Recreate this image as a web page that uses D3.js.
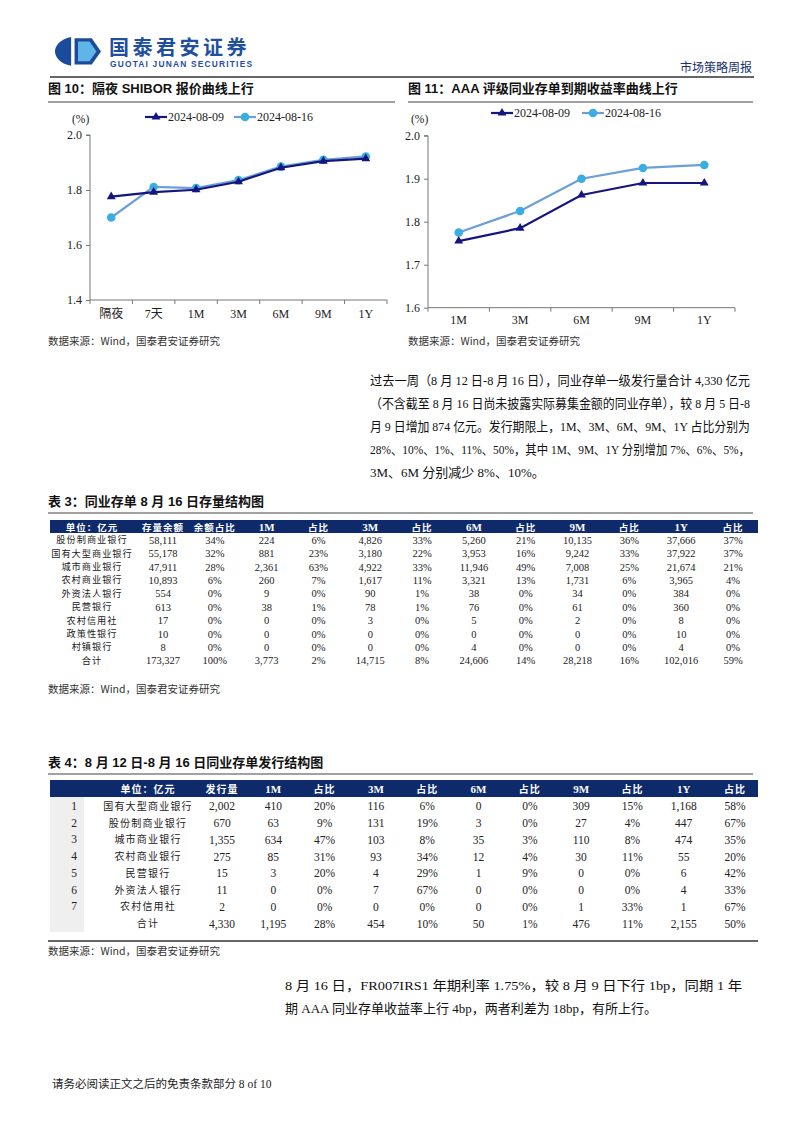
<!DOCTYPE html>
<html><head><meta charset="utf-8">
<script src="https://cdn.jsdelivr.net/npm/d3@7"></script>
<style>body{margin:0;background:#fff} svg{display:block}</style>
</head><body><svg id="c" width="802" height="1133"></svg>
<script>
// ---------- DATA ----------
const shiborCats = ["隔夜","7天","1M","3M","6M","9M","1Y"];
const shibor0809 = [1.776,1.792,1.801,1.830,1.881,1.905,1.914];
const shibor0816 = [1.700,1.811,1.807,1.836,1.885,1.910,1.922];
const shiborTicks = [1.4,1.6,1.8,2.0];
const ncdCats = ["1M","3M","6M","9M","1Y"];
const ncd0809 = [1.755,1.785,1.862,1.890,1.890];
const ncd0816 = [1.775,1.825,1.900,1.925,1.932];
const ncdTicks = [1.6,1.7,1.8,1.9,2.0];
const seriesNames = ["2024-08-09","2024-08-16"];

const t3Header = ["单位：亿元","存量余额","余额占比","1M","占比","3M","占比","6M","占比","9M","占比","1Y","占比"];
const t3Banks = ["股份制商业银行","国有大型商业银行","城市商业银行","农村商业银行","外资法人银行","民营银行","农村信用社","政策性银行","村镇银行","合计"];
const t3Balance = ["58,111","55,178","47,911","10,893","554","613","17","10","8","173,327"];
const t3BalanceShare = ["34%","32%","28%","6%","0%","0%","0%","0%","0%","100%"];
const t3M1 = ["224","881","2,361","260","9","38","0","0","0","3,773"];
const t3M1Share = ["6%","23%","63%","7%","0%","1%","0%","0%","0%","2%"];
const t3M3 = ["4,826","3,180","4,922","1,617","90","78","3","0","0","14,715"];
const t3M3Share = ["33%","22%","33%","11%","1%","1%","0%","0%","0%","8%"];
const t3M6 = ["5,260","3,953","11,946","3,321","38","76","5","0","4","24,606"];
const t3M6Share = ["21%","16%","49%","13%","0%","0%","0%","0%","0%","14%"];
const t3M9 = ["10,135","9,242","7,008","1,731","34","61","2","0","0","28,218"];
const t3M9Share = ["36%","33%","25%","6%","0%","0%","0%","0%","0%","16%"];
const t3Y1 = ["37,666","37,922","21,674","3,965","384","360","8","10","4","102,016"];
const t3Y1Share = ["37%","37%","21%","4%","0%","0%","0%","0%","0%","59%"];

const t4Header = ["","单位：亿元","发行量","1M","占比","3M","占比","6M","占比","9M","占比","1Y","占比"];
const t4Index = ["1","2","3","4","5","6","7",""];
const t4Banks = ["国有大型商业银行","股份制商业银行","城市商业银行","农村商业银行","民营银行","外资法人银行","农村信用社","合计"];
const t4Issue = ["2,002","670","1,355","275","15","11","2","4,330"];
const t4M1 = ["410","63","634","85","3","0","0","1,195"];
const t4M1Share = ["20%","9%","47%","31%","20%","0%","0%","28%"];
const t4M3 = ["116","131","103","93","4","7","0","454"];
const t4M3Share = ["6%","19%","8%","34%","29%","67%","0%","10%"];
const t4M6 = ["0","3","35","12","1","0","0","50"];
const t4M6Share = ["0%","0%","3%","4%","9%","0%","0%","1%"];
const t4M9 = ["309","27","110","30","0","0","1","476"];
const t4M9Share = ["15%","4%","8%","11%","0%","0%","33%","11%"];
const t4Y1 = ["1,168","447","474","55","6","4","1","2,155"];
const t4Y1Share = ["58%","67%","35%","20%","42%","33%","67%","50%"];

const para1 = ["过去一周（8 月 12 日-8 月 16 日），同业存单一级发行量合计 4,330 亿元",
  "（不含截至 8 月 16 日尚未披露实际募集金额的同业存单），较 8 月 5 日-8",
  "月 9 日增加 874 亿元。发行期限上，1M、3M、6M、9M、1Y 占比分别为",
  "28%、10%、1%、11%、50%，其中 1M、9M、1Y 分别增加 7%、6%、5%，",
  "3M、6M 分别减少 8%、10%。"];
const para2 = ["8 月 16 日，FR007IRS1 年期利率 1.75%，较 8 月 9 日下行 1bp，同期 1 年",
  "期 AAA 同业存单收益率上行 4bp，两者利差为 18bp，有所上行。"];

// ---------- STYLE ----------
const SANS = "'Liberation Sans','Noto Sans CJK SC',sans-serif";
const SERIF = "'Liberation Serif','Noto Sans CJK SC',serif";
const CJK = "'Noto Sans CJK SC',sans-serif";
const DARK = "#15157f", LIGHT_LINE = "#6c9fd6", LIGHT_DOT = "#3aaee3", NAVY = "#16306e";

const svg = d3.select("#c");

// ---------- HEADER ----------
const logo = svg.append("g").attr("transform","translate(55,37) scale(1.15)");
logo.append("path").attr("d","M14,0 C4,2 0,8 0,12.5 C0,17 4,23 14,25 L14,0 Z").attr("fill","#1c4b9b");
logo.append("path").attr("d","M17,1 L32,1 L40,12.5 L32,24 L17,24 Z").attr("fill","#1c4b9b");
logo.append("path").attr("d","M20,4 L30,4 L36,12.5 L30,21 L20,21 Z").attr("fill","#5fb4e8");
svg.append("text").attr("x",109).attr("y",55).text("国泰君安证券")
  .attr("font-family",CJK).attr("font-size",20).attr("font-weight",700).attr("fill","#1f4f9f").attr("letter-spacing",3.5);
svg.append("text").attr("x",110).attr("y",67).text("GUOTAI JUNAN SECURITIES")
  .attr("font-family",SANS).attr("font-size",8.4).attr("font-weight",700).attr("fill","#1f4f9f")
  .attr("textLength",142).attr("lengthAdjust","spacing");
svg.append("text").attr("x",752).attr("y",72).attr("text-anchor","end").text("市场策略周报")
  .attr("font-family",CJK).attr("font-size",12).attr("fill",NAVY);
svg.append("line").attr("x1",50).attr("x2",754).attr("y1",77).attr("y2",77).attr("stroke","#333").attr("stroke-width",1.5);

// ---------- FIGURE TITLES ----------
function figTitle(x, x2, y, txt){
  svg.append("text").attr("x",x).attr("y",y).text(txt)
    .attr("font-family",SANS).attr("font-size",13).attr("font-weight",700).attr("fill","#111");
  svg.append("line").attr("x1",x).attr("x2",x2).attr("y1",y+9).attr("y2",y+9).attr("stroke","#444").attr("stroke-width",1);
}
figTitle(48,395,93,"图 10：隔夜 SHIBOR 报价曲线上行");
figTitle(408,753,93,"图 11：AAA 评级同业存单到期收益率曲线上行");

function caption(x,y){
  svg.append("text").attr("x",x).attr("y",y).text("数据来源：Wind，国泰君安证券研究")
    .attr("font-family",CJK).attr("font-size",10.5).attr("fill","#333");
}
caption(48,345); caption(408,345);

// ---------- LINE CHARTS ----------
function lineChart(opt){
  const g = svg.append("g");
  const x = d3.scaleBand().domain(opt.cats).range([opt.x0,opt.x1]);
  const y = d3.scaleLinear().domain([opt.ticks[0],opt.ticks[opt.ticks.length-1]]).range([opt.y1,opt.y0]);
  const ya = g.append("g").attr("transform",`translate(${opt.x0},0)`)
    .call(d3.axisLeft(y).tickValues(opt.ticks).tickFormat(d3.format(".1f")).tickSize(4).tickPadding(4));
  ya.selectAll("path,line").attr("stroke","#777");
  ya.selectAll("text").attr("font-family",SERIF).attr("font-size",12).attr("fill","#222");
  ya.select(".domain").attr("d",`M-4,${opt.y0}H0V${opt.y1}`);
  const xa = g.append("g").attr("transform",`translate(0,${opt.y1})`)
    .call(d3.axisBottom(x).tickSize(0).tickPadding(opt.xpad));
  xa.select(".domain").attr("stroke","#777").attr("d",`M${opt.x0},0H${opt.x1}`);
  xa.selectAll("text").attr("font-family",SERIF).attr("font-size",12).attr("fill","#222");
  const bounds = opt.cats.map(c=>x(c)).concat([opt.x1]);
  g.selectAll(".xt").data(bounds).enter().append("line")
    .attr("x1",d=>d).attr("x2",d=>d).attr("y1",opt.y1).attr("y2",opt.y1+4).attr("stroke","#777");
  g.append("text").attr("x",opt.pctX).attr("y",opt.pctY).text("(%)")
    .attr("font-family",SERIF).attr("font-size",11.5).attr("fill","#222");

  const cx = c => x(c)+x.bandwidth()/2;
  const line = d3.line().x((d,i)=>cx(opt.cats[i])).y(d=>y(d));
  g.append("path").datum(opt.s2).attr("d",line).attr("fill","none").attr("stroke",LIGHT_LINE).attr("stroke-width",2.2);
  g.selectAll(".c2").data(opt.s2).enter().append("circle")
    .attr("cx",(d,i)=>cx(opt.cats[i])).attr("cy",d=>y(d)).attr("r",4.3).attr("fill",LIGHT_DOT);
  g.append("path").datum(opt.s1).attr("d",line).attr("fill","none").attr("stroke",DARK).attr("stroke-width",2.2);
  const tri = d3.symbol().type(d3.symbolTriangle).size(34);
  g.selectAll(".t1").data(opt.s1).enter().append("path").attr("d",tri)
    .attr("transform",(d,i)=>`translate(${cx(opt.cats[i])},${y(d)})`).attr("fill",DARK);

  const lg = g.append("g");
  const L = opt.legend;
  lg.append("line").attr("x1",L.x1).attr("x2",L.x1+22).attr("y1",L.y).attr("y2",L.y).attr("stroke",DARK).attr("stroke-width",2.2);
  lg.append("path").attr("d",tri).attr("transform",`translate(${L.x1+11},${L.y})`).attr("fill",DARK);
  lg.append("text").attr("x",L.x1+23).attr("y",L.y+4).text(seriesNames[0])
    .attr("font-family",SERIF).attr("font-size",12).attr("fill","#222");
  lg.append("line").attr("x1",L.x2).attr("x2",L.x2+22).attr("y1",L.y).attr("y2",L.y).attr("stroke",LIGHT_LINE).attr("stroke-width",2.2);
  lg.append("circle").attr("cx",L.x2+11).attr("cy",L.y).attr("r",4.3).attr("fill",LIGHT_DOT);
  lg.append("text").attr("x",L.x2+23).attr("y",L.y+4).text(seriesNames[1])
    .attr("font-family",SERIF).attr("font-size",12).attr("fill","#222");
}
lineChart({cats:shiborCats,s1:shibor0809,s2:shibor0816,ticks:shiborTicks,
  x0:90,x1:387,y0:135,y1:300,xpad:9,pctX:72,pctY:123,legend:{x1:145,x2:234,y:117}});
lineChart({cats:ncdCats,s1:ncd0809,s2:ncd0816,ticks:ncdTicks,
  x0:428,x1:735,y0:135.7,y1:307.7,xpad:8,pctX:411,pctY:123,legend:{x1:491,x2:582,y:113}});

// ---------- PARAGRAPHS ----------
function paragraph(lines,x,x2,y0,lh){
  lines.forEach((s,i)=>{
    const t = svg.append("text").attr("x",x).attr("y",y0+i*lh).text(s)
      .attr("font-family",SERIF).attr("font-size",13).attr("fill","#111");
    if(i<lines.length-1) t.attr("textLength",x2-x).attr("lengthAdjust","spacingAndGlyphs");
  });
}
paragraph(para1,370,750,385,23);
paragraph(para2,285,742,990,23);

// ---------- TABLES ----------
function tableTitle(y,txt){
  svg.append("text").attr("x",48).attr("y",y).text(txt)
    .attr("font-family",SANS).attr("font-size",13).attr("font-weight",700).attr("fill","#111");
  svg.append("line").attr("x1",48).attr("x2",753).attr("y1",y+7).attr("y2",y+7).attr("stroke","#444").attr("stroke-width",1.2);
}
tableTitle(506,"表 3：同业存单 8 月 16 日存量结构图");
tableTitle(767,"表 4：8 月 12 日-8 月 16 日同业存单发行结构图");

function drawTable(o){
  const g = svg.append("g");
  const colX = d3.scalePoint().domain(d3.range(o.cols.length)).range([o.c0,o.c1]);
  const rowY = d3.scaleBand().domain(d3.range(o.nRows)).range([o.rTop,o.rBot]);
  if(o.gray){
    g.append("rect").attr("x",o.gray[0]).attr("width",o.gray[1]-o.gray[0]).attr("y",o.hTop).attr("height",o.rBot-o.hTop).attr("fill","#efefef");
  }
  g.append("rect").attr("x",o.hx0).attr("width",o.hx1-o.hx0).attr("y",o.hTop).attr("height",o.hBot-o.hTop).attr("fill","#0e2a6b");
  const hy = (o.hTop+o.hBot)/2+4;
  o.headers.forEach((h,i)=>{
    if(!h) return;
    const isFixed = i<o.fixedCount;
    const x = isFixed ? o.fixed[i] : colX(i-o.fixedCount);
    const cjk = /[\u4e00-\u9fff]/.test(h);
    g.append("text").attr("x",x).attr("y",hy).attr("text-anchor","middle").text(h)
      .attr("font-family",cjk?CJK:SERIF).attr("font-size",cjk?o.hfs:11).attr("font-weight",700)
      .attr("letter-spacing",cjk?1:0).attr("fill","#fff");
  });
  o.fixedCols.forEach((arr,j)=>{
    g.selectAll(null).data(arr).enter().append("text")
      .attr("x",o.fixed[j]).attr("y",(d,i)=>rowY(i)+rowY.bandwidth()/2+3.5).attr("text-anchor","middle")
      .text(d=>d).attr("font-family",j===o.nameCol?CJK:SERIF)
      .attr("font-size",j===o.nameCol?o.nfs:o.fs).attr("letter-spacing",j===o.nameCol?o.nls:0).attr("fill","#222");
  });
  o.cols.forEach((arr,j)=>{
    g.selectAll(null).data(arr).enter().append("text")
      .attr("x",colX(j)).attr("y",(d,i)=>rowY(i)+rowY.bandwidth()/2+4).attr("text-anchor","middle")
      .text(d=>d).attr("font-family",SERIF).attr("font-size",o.fs).attr("fill","#222");
  });
  if(o.bottom) g.append("line").attr("x1",o.hx0-2).attr("x2",o.hx1).attr("y1",o.bottom).attr("y2",o.bottom).attr("stroke","#666").attr("stroke-width",2);
}
drawTable({headers:t3Header,fixedCount:1,fixed:[92],fixedCols:[t3Banks],nameCol:0,nfs:9.2,nls:1,hfs:9.5,
  cols:[t3Balance,t3BalanceShare,t3M1,t3M1Share,t3M3,t3M3Share,t3M6,t3M6Share,t3M9,t3M9Share,t3Y1,t3Y1Share],
  c0:163,c1:733,nRows:10,hTop:520,hBot:533,rTop:533,rBot:667,hx0:50,hx1:758,fs:10.5,bottom:null});
caption(48,693);

drawTable({headers:t4Header,fixedCount:2,fixed:[74,148],fixedCols:[t4Index,t4Banks],nameCol:1,nfs:10,nls:1.2,hfs:10,
  cols:[t4Issue,t4M1,t4M1Share,t4M3,t4M3Share,t4M6,t4M6Share,t4M9,t4M9Share,t4Y1,t4Y1Share],
  c0:222,c1:735,nRows:8,hTop:780,hBot:797,rTop:798,rBot:932,hx0:50,hx1:758,fs:11.5,gray:[50,84],bottom:941});
caption(48,955);

// ---------- FOOTER ----------
svg.append("text").attr("x",52).attr("y",1088).text("请务必阅读正文之后的免责条款部分 8 of 10")
  .attr("font-family",SERIF).attr("font-size",11.5).attr("fill","#222");
</script></body></html>
